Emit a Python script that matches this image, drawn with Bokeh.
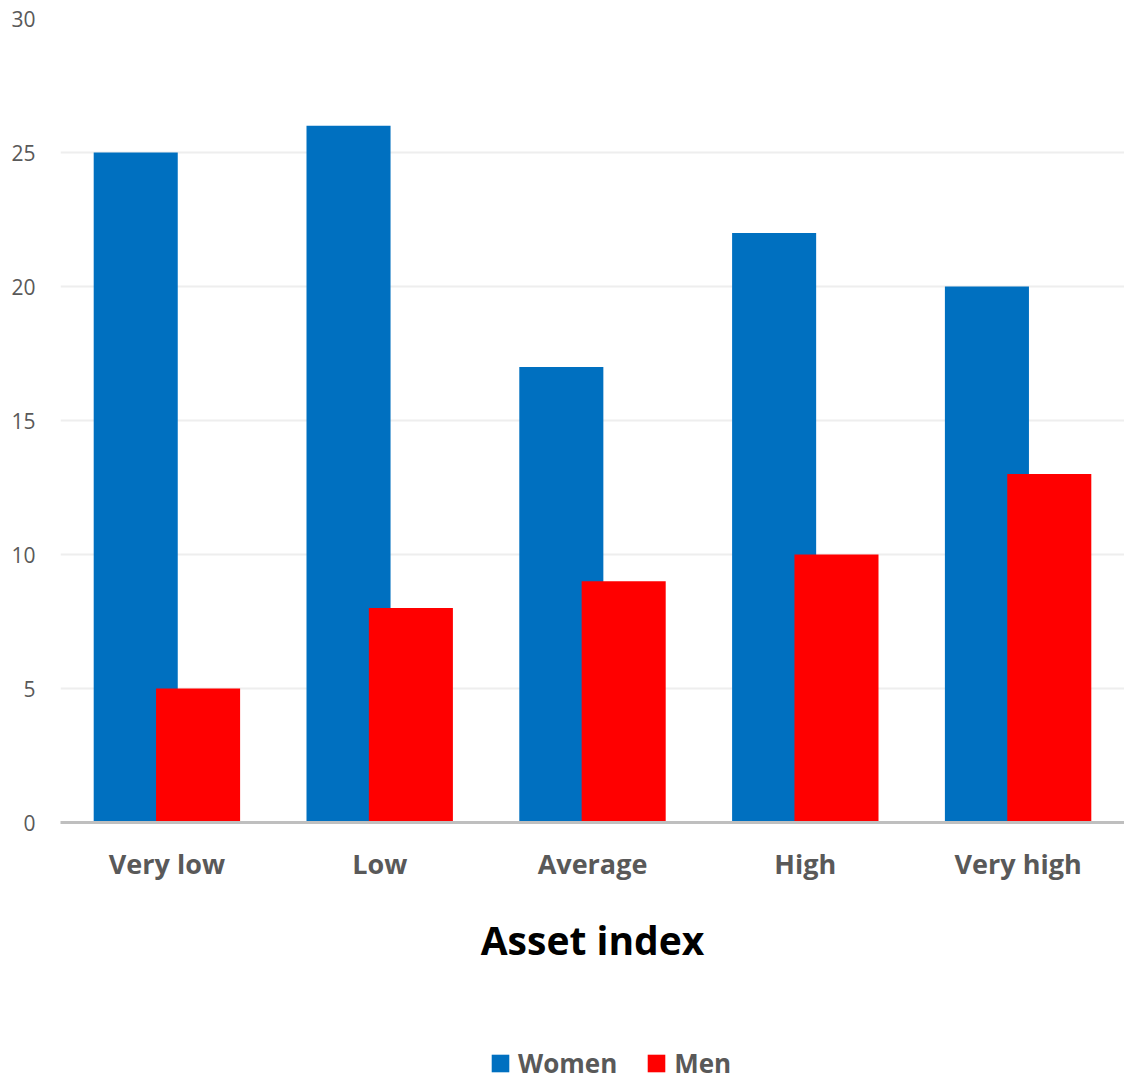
from bokeh.plotting import figure
from bokeh.layouts import column
from bokeh.models import ColumnDataSource, FactorRange, Range1d, Legend, LegendItem, SingleIntervalTicker
from bokeh.transform import dodge
from bokeh.embed import file_html
from bokeh.resources import INLINE

# Share of respondents (%) by asset index group
categories = ["Very low", "Low", "Average", "High", "Very high"]
women = [25, 26, 17, 22, 20]
men = [5, 8, 9, 10, 13]
series_names = ["Women", "Men"]
series_colors = ["#0070C0", "#FF0000"]

source = ColumnDataSource(data=dict(cat=categories, women=women, men=men))

FONT = "Open Sans"
GREY = "#595959"

p = figure(
    width=1124, height=1045,
    x_range=FactorRange(factors=categories, start=0, end=4.95),
    y_range=Range1d(0, 30),
    output_backend="svg", toolbar_location=None,
    min_border_left=60, min_border_right=0, min_border_top=18, min_border_bottom=223,
)
p.outline_line_color = None
p.background_fill_color = "white"
p.border_fill_color = "white"

bw = 0.395
p.vbar(x=dodge("cat", -0.1465, range=p.x_range), top="women", width=bw,
       source=source, fill_color=series_colors[0], line_color=None)
p.vbar(x=dodge("cat", 0.1465, range=p.x_range), top="men", width=bw,
       source=source, fill_color=series_colors[1], line_color=None)

# y axis
p.yaxis.ticker = SingleIntervalTicker(interval=5)
p.yaxis.axis_line_color = None
p.yaxis.major_tick_line_color = None
p.yaxis.minor_tick_line_color = None
p.yaxis.major_label_text_font = FONT
p.yaxis.major_label_text_font_size = "21px"
p.yaxis.major_label_text_color = GREY
p.yaxis.major_label_standoff = 19

# x axis
p.xaxis.axis_line_color = "#BFBFBF"
p.xaxis.axis_line_width = 3
p.xaxis.major_tick_line_color = None
p.xaxis.minor_tick_line_color = None
p.xaxis.major_label_text_font = FONT
p.xaxis.major_label_text_font_size = "27px"
p.xaxis.major_label_text_font_style = "bold"
p.xaxis.major_label_text_color = GREY
p.xaxis.major_label_standoff = 16
p.xaxis.axis_label = "Asset index"
p.xaxis.axis_label_text_font = FONT
p.xaxis.axis_label_text_font_size = "39px"
p.xaxis.axis_label_text_font_style = "bold"
p.xaxis.axis_label_text_color = "black"
p.xaxis.axis_label_standoff = 28

p.xgrid.grid_line_color = None
p.ygrid.grid_line_color = "#EEEEEE"
p.ygrid.grid_line_width = 2

# legend strip underneath the chart; swatch renderers have zero height
lg = figure(
    width=1124, height=36, x_range=Range1d(0, 1), y_range=Range1d(0, 1),
    output_backend="svg", toolbar_location=None, min_border=0,
)
lg.outline_line_color = None
lg.axis.visible = False
lg.grid.visible = False
swatches = [lg.vbar(x=[0.5], top=[0], bottom=[0], width=0.1, fill_color=c, line_color=None)
            for c in series_colors]

legend = Legend(
    items=[LegendItem(label=n, renderers=[r]) for n, r in zip(series_names, swatches)],
    orientation="horizontal", location=(429, 0),
    label_text_font=FONT, label_text_font_size="26px", label_text_font_style="bold",
    label_text_color=GREY, glyph_width=22, glyph_height=22, spacing=28,
    border_line_color=None, background_fill_alpha=0, margin=0, padding=0,
    label_standoff=7,
)
lg.add_layout(legend, "center")

layout = column(p, lg, spacing=0)
open("out.html", "w").write(file_html(layout, INLINE))
